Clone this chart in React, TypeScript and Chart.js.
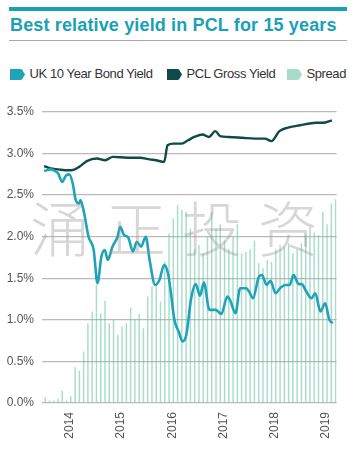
import React, { useEffect, useRef } from 'react';
import { Chart, registerables } from 'chart.js';

Chart.register(...registerables);

// ---- data ----
const startYear = 2013;
const startMonth = 7; // July 2013, monthly bars to March 2019
const monthCount = 69;
const months: string[] = [];
for (let i = 0; i < monthCount; i++) {
  const m = startMonth - 1 + i;
  months.push(`${startYear + Math.floor(m / 12)}-${String((m % 12) + 1).padStart(2, '0')}`);
}
const yearTickLabels = ['2014', '2015', '2016', '2017', '2018', '2019'];
const yTickValues = [0, 0.5, 1, 1.5, 2, 2.5, 3, 3.5];

const spread = [
  0.07, 0.03, 0.03, 0.05, 0.15, 0.03, 0.08, 0.43, 0.39, 0.62,
  0.96, 1.10, 1.42, 1.08, 1.23, 0.96, 1.00, 0.82, 0.92, 0.96,
  1.15, 1.00, 1.07, 0.90, 1.28, 1.40, 1.40, 1.22, 1.70, 2.04,
  2.22, 2.38, 2.32, 2.30, 2.10, 1.85, 1.90, 1.80, 2.00, 2.30,
  2.10, 2.15, 1.95, 1.85, 2.00, 2.15, 1.80, 1.82, 1.85, 1.95,
  1.68, 1.62, 1.72, 1.70, 1.85, 1.90, 1.88, 1.92, 1.80, 1.85,
  1.92, 2.02, 2.12, 2.05, 2.02, 2.30, 2.15, 2.40, 2.45,
];

// month position (0 = Jul 2013) and yield
const ukX = [
  0, 1.5, 2.6, 3.3, 4.2, 5.2, 5.9, 6.7, 7.4, 8.2,
  8.5, 9.3, 10.4, 11.6, 12.5, 13.4, 14.2, 14.9, 16.0, 17.2,
  17.8, 18.7, 19.7, 20.8, 21.7, 22.7, 23.8, 24.7, 26.0, 27.0,
  28.1, 29.0, 29.6, 30.5, 31.5, 32.4, 33.3, 34.4, 35.5, 36.5,
  37.4, 38.7, 40.2, 41.5, 42.9, 43.6, 44.8, 45.9, 47.3, 48.0,
  48.9, 50.3, 51.0, 52.1, 53.0, 54.2, 55.4, 56.6, 57.5, 58.4,
  59.6, 60.3, 61.4, 62.6, 63.5, 64.7, 65.8, 66.8, 67.6,
];
const ukY = [
  2.79, 2.81, 2.79, 2.76, 2.66, 2.74, 2.75, 2.64, 2.44, 2.40,
  2.44, 2.30, 2.00, 1.84, 1.44, 1.76, 1.84, 1.72, 1.88, 2.00,
  2.12, 2.02, 1.99, 1.82, 1.94, 1.88, 2.00, 1.72, 1.42, 1.48,
  1.66, 1.56, 1.36, 1.00, 0.86, 0.74, 0.82, 1.25, 1.43, 1.29,
  1.45, 1.12, 1.12, 1.07, 1.28, 1.23, 1.08, 1.38, 1.38, 1.34,
  1.26, 1.52, 1.54, 1.42, 1.47, 1.32, 1.39, 1.42, 1.42, 1.54,
  1.43, 1.43, 1.34, 1.26, 1.32, 1.10, 1.20, 1.00, 0.96,
];
const pclX = [
  0, 1.5, 3.3, 4.9, 6.4, 8.2, 10.0, 12.3, 14.3, 16.1,
  19.5, 22.4, 24.7, 26.2, 28.1, 28.9, 30.3, 32.2, 33.7, 35.2,
  37.1, 38.6, 40.1, 41.2, 43.1, 46.4, 49.4, 51.7, 53.2, 55.1,
  56.9, 59.9, 63.7, 65.2, 67.4,
];
const pclY = [
  2.85, 2.82, 2.81, 2.80, 2.80, 2.84, 2.91, 2.94, 2.92, 2.96,
  2.95, 2.95, 2.93, 2.92, 2.90, 3.10, 3.12, 3.12, 3.16, 3.20,
  3.23, 3.20, 3.27, 3.21, 3.20, 3.19, 3.18, 3.18, 3.15, 3.27,
  3.31, 3.34, 3.37, 3.37, 3.40,
];

const TEAL = '#1aa0b6';
const UK_COLOR = '#1fa3b8';
const PCL_COLOR = '#0e4a46';
const SPREAD_COLOR = '#a8dbca';
const FONT = '"Liberation Sans", Arial, Helvetica, sans-serif';

function Marker({ color }: { color: string }) {
  return (
    <svg width={15} height={11} style={{ display: 'block' }}>
      <path d="M0 0 H10.5 Q11.5 0 12.2 0.8 L15 5.5 L12.2 10.2 Q11.5 11 10.5 11 H0 Z" fill={color} />
    </svg>
  );
}

export default function App() {
  const canvasRef = useRef<HTMLCanvasElement | null>(null);

  useEffect(() => {
    if (!canvasRef.current) return;
    const chart = new Chart(canvasRef.current, {
      type: 'bar',
      data: {
        labels: months,
        datasets: [
          {
            type: 'line',
            label: 'UK 10 Year Bond Yield',
            data: ukX.map((x, i) => ({ x, y: ukY[i] })),
            xAxisID: 'xl',
            borderColor: UK_COLOR,
            borderWidth: 2.6,
            pointRadius: 0,
            cubicInterpolationMode: 'monotone',
            order: 1,
          } as any,
          {
            type: 'line',
            label: 'PCL Gross Yield',
            data: pclX.map((x, i) => ({ x, y: pclY[i] })),
            xAxisID: 'xl',
            borderColor: PCL_COLOR,
            borderWidth: 2.4,
            pointRadius: 0,
            cubicInterpolationMode: 'monotone',
            order: 2,
          } as any,
          {
            type: 'bar',
            label: 'Spread',
            data: spread,
            xAxisID: 'x',
            backgroundColor: 'rgba(112,197,168,0.6)',
            categoryPercentage: 1,
            barPercentage: 0.68,
            order: 3,
          },
        ],
      },
      options: {
        responsive: false,
        animation: false,
        layout: { padding: { top: 24, right: 11, left: 0, bottom: 0 } },
        plugins: { legend: { display: false }, tooltip: { enabled: false } },
        scales: {
          x: {
            type: 'category',
            offset: true,
            grid: { display: false, drawTicks: false },
            border: { display: false },
            afterFit: (s: any) => { s.height = 47; },
            ticks: {
              autoSkip: false,
              minRotation: 90,
              maxRotation: 90,
              padding: 9,
              color: '#555',
              font: { family: FONT, size: 12 },
              callback: (_v: any, idx: number) => {
                const lab = months[idx];
                const yr = lab.slice(0, 4);
                return lab.endsWith('-01') && yearTickLabels.includes(yr) ? yr : '';
              },
            },
          },
          xl: {
            type: 'linear',
            display: false,
            offset: false,
            grid: { offset: false },
            min: -0.5,
            max: monthCount - 0.5,
          },
          y: {
            min: 0,
            max: 3.5,
            afterFit: (s: any) => { s.width = 42; },
            afterBuildTicks: (s: any) => { s.ticks = yTickValues.map((v) => ({ value: v })); },
            grid: { color: '#bababa', lineWidth: 1.3, drawTicks: false },
            border: { display: false },
            ticks: {
              padding: 8,
              color: '#555',
              font: { family: FONT, size: 12 },
              callback: (v: any) => Number(v).toFixed(1) + '%',
            },
          },
        },
      },
    });
    return () => chart.destroy();
  }, []);

  const legendItems = [
    { label: 'UK 10 Year Bond Yield', color: UK_COLOR, left: 10 },
    { label: 'PCL Gross Yield', color: PCL_COLOR, left: 167 },
    { label: 'Spread', color: SPREAD_COLOR, left: 287 },
  ];

  return (
    <div style={{ position: 'absolute', left: 0, top: 0, width: 358, height: 450, background: '#fff', fontFamily: FONT, overflow: 'hidden' }}>
      <div style={{ position: 'absolute', left: 9, top: 7, width: 338, height: 3.5, background: TEAL }} />
      <div style={{ position: 'absolute', left: 10, top: 16, fontSize: 18, lineHeight: '18px', fontWeight: 700, color: TEAL, whiteSpace: 'nowrap', letterSpacing: '0.15px' }}>
        Best relative yield in PCL for 15 years
      </div>
      <div style={{ position: 'absolute', left: 9, top: 40, width: 338, height: 1, background: '#a9a9a9' }} />
      {legendItems.map((it) => (
        <div key={it.label} style={{ position: 'absolute', left: it.left, top: 68, display: 'flex', alignItems: 'center', whiteSpace: 'nowrap' }}>
          <Marker color={it.color} />
          <span style={{ marginLeft: 4.5, fontSize: 13, lineHeight: '12px', color: '#333', letterSpacing: '-0.4px' }}>{it.label}</span>
        </div>
      ))}
      <div style={{ position: 'absolute', left: 0, top: 88, width: 358, height: 362 }}>
        <canvas ref={canvasRef} width={358} height={362} style={{ display: 'block' }} />
      </div>
      <div style={{ position: 'absolute', left: 30, top: 190, fontFamily: '"Noto Sans CJK SC", sans-serif', fontSize: 60, lineHeight: '72px', fontWeight: 300, color: 'rgba(150,150,150,0.38)', letterSpacing: '16px', whiteSpace: 'nowrap', pointerEvents: 'none' }}>
        涌正投资
      </div>
    </div>
  );
}
